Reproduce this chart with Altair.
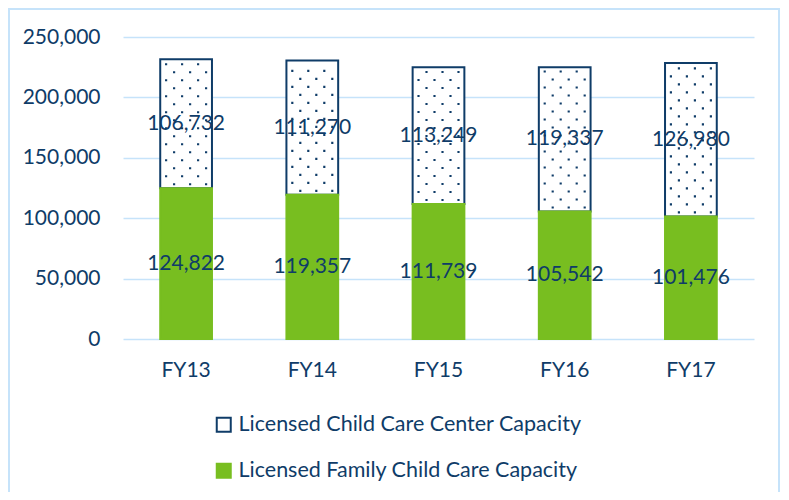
import altair as alt
import pandas as pd

years = ["FY13", "FY14", "FY15", "FY16", "FY17"]
family = [124822, 119357, 111739, 105542, 101476]
center = [106732, 111270, 113249, 119337, 126980]
series_names = ["Licensed Child Care Center Capacity", "Licensed Family Child Care Capacity"]
y_ticks = [0, 50000, 100000, 150000, 200000, 250000]

DARK = "#0F3C68"
GREEN = "#78BE20"
GRID = "#C6E3FA"
FONT = "Lato"
FS = 21
DOT_STEP = 6623  # vertical spacing of pattern dots, in data units (~8px)


def sq(cx, h=0.045):
    return f"M{cx-h:.3f},{-h:.3f}L{cx+h:.3f},{-h:.3f}L{cx+h:.3f},{h:.3f}L{cx-h:.3f},{h:.3f}Z"


PATH_A = " ".join(sq(c) for c in (-0.5, 0.1667, 0.8333))
PATH_B = " ".join(sq(c) for c in (-0.8333, -0.1667, 0.5))

df = pd.DataFrame({"year": years, "family": family, "center": center})
base = alt.Chart(df)

x = alt.X(
    "year:N", sort=years, title=None,
    scale=alt.Scale(paddingInner=0.59, paddingOuter=0.295),
    axis=alt.Axis(labelAngle=0, ticks=False, domain=False, labelPadding=20,
                  labelFontSize=FS, labelColor=DARK, labelFont=FONT, grid=False),
)
yscale = alt.Scale(domain=[0, 250000])
yaxis = alt.Axis(values=y_ticks, format=",.0f", ticks=False, domain=False,
                 labelFontSize=FS, labelFont=FONT, labelColor=DARK, labelPadding=23,
                 gridColor=GRID, gridWidth=1.5)

long = base.transform_fold(["center", "family"], as_=["key", "value"]).transform_calculate(
    series=f"datum.key == 'center' ? '{series_names[0]}' : '{series_names[1]}'",
    y0="datum.key == 'center' ? datum.family : 0",
    y1="datum.key == 'center' ? datum.family + datum.center : datum.family",
).transform_calculate(ymid="(datum.y0 + datum.y1) / 2")

leg = dict(
    orient="none", legendX=90, legendY=377, direction="vertical", title=None,
    symbolType="square", symbolSize=196, symbolStrokeWidth=2,
    labelFontSize=21.5, labelFont=FONT, labelColor=DARK, rowPadding=23,
    labelOffset=4, padding=0, labelLimit=600,
)

bars = long.mark_bar(strokeWidth=2).encode(
    x=x,
    y=alt.Y("y0:Q", scale=yscale, title=None, axis=yaxis),
    y2="y1:Q",
    fill=alt.Fill("series:N", scale=alt.Scale(domain=series_names, range=["white", GREEN]),
                  legend=alt.Legend(**leg)),
    stroke=alt.Stroke("series:N", scale=alt.Scale(domain=series_names, range=[DARK, GREEN]),
                      legend=alt.Legend(**leg)),
)

dots = base.transform_calculate(
    seq=f"sequence(0, floor(datum.center / {DOT_STEP}))"
).transform_flatten(["seq"]).transform_calculate(
    dy=f"datum.family + (datum.seq + 0.5) * {DOT_STEP}"
)
dotsA = dots.transform_filter("datum.seq % 2 == 0").mark_point(
    shape=PATH_A, size=2304, filled=True, fill=DARK, opacity=1, strokeWidth=0
).encode(x=x, y=alt.Y("dy:Q", scale=yscale, title=None, axis=yaxis))
dotsB = dots.transform_filter("datum.seq % 2 == 1").mark_point(
    shape=PATH_B, size=2304, filled=True, fill=DARK, opacity=1, strokeWidth=0
).encode(x=x, y=alt.Y("dy:Q", scale=yscale, title=None, axis=yaxis))

labels = long.mark_text(fontSize=FS, font=FONT, color=DARK).encode(
    x=x, y=alt.Y("ymid:Q", scale=yscale, title=None, axis=yaxis),
    text=alt.Text("value:Q", format=",")
)

frame = alt.Chart(alt.Data(values=[{}])).mark_rect(
    fill="transparent", stroke=GRID, strokeWidth=2
).encode(x=alt.value(-114), x2=alt.value(656), y=alt.value(-28), y2=alt.value(470))

chart = alt.layer(bars, dotsA, dotsB, labels, frame).properties(
    width=631, height=302,
    autosize=alt.AutoSizeParams(type="none"),
    padding={"left": 115, "top": 29, "right": 27, "bottom": 153},
).configure_view(strokeWidth=0)

chart.save("out.html", embed_options={"renderer": "svg", "actions": False})
